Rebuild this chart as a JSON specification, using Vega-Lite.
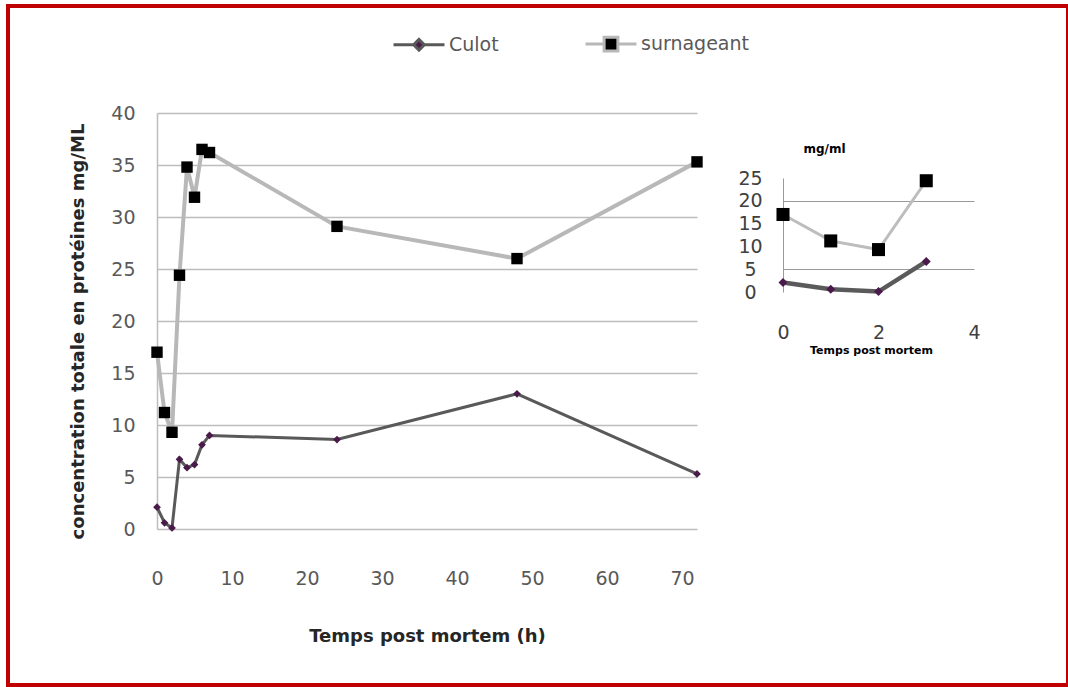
{
  "$schema": "https://vega.github.io/schema/vega-lite/v6.json",
  "width": 1060,
  "height": 679,
  "autosize": "none",
  "padding": {"left": 8, "top": 6, "right": 0, "bottom": 2},
  "background": "white",
  "config": {
    "view": {"stroke": "#c00000", "strokeWidth": 4},
    "font": "DejaVu Sans",
    "axis": {"labelFont": "DejaVu Sans", "titleFont": "DejaVu Sans", "labelFlush": false}
  },
  "data": {
    "values": [
      {"t": 0, "serie": "Culot", "v": 2.1},
      {"t": 1, "serie": "Culot", "v": 0.6},
      {"t": 2, "serie": "Culot", "v": 0.1},
      {"t": 3, "serie": "Culot", "v": 6.7},
      {"t": 4, "serie": "Culot", "v": 5.9},
      {"t": 5, "serie": "Culot", "v": 6.2},
      {"t": 6, "serie": "Culot", "v": 8.1},
      {"t": 7, "serie": "Culot", "v": 9.0},
      {"t": 24, "serie": "Culot", "v": 8.6},
      {"t": 48, "serie": "Culot", "v": 13.0},
      {"t": 72, "serie": "Culot", "v": 5.3},
      {"t": 0, "serie": "surnageant", "v": 17.0},
      {"t": 1, "serie": "surnageant", "v": 11.2},
      {"t": 2, "serie": "surnageant", "v": 9.3},
      {"t": 3, "serie": "surnageant", "v": 24.4},
      {"t": 4, "serie": "surnageant", "v": 34.8},
      {"t": 5, "serie": "surnageant", "v": 31.9},
      {"t": 6, "serie": "surnageant", "v": 36.5},
      {"t": 7, "serie": "surnageant", "v": 36.2},
      {"t": 24, "serie": "surnageant", "v": 29.1},
      {"t": 48, "serie": "surnageant", "v": 26.0},
      {"t": 72, "serie": "surnageant", "v": 35.3}
    ]
  },
  "resolve": {"scale": {"x": "independent", "y": "independent"}},
  "layer": [
    {
      "encoding": {
        "x": {
          "field": "t", "type": "quantitative",
          "scale": {"domain": [0, 72], "range": [149, 689], "nice": false, "zero": false},
          "axis": {
            "orient": "bottom", "offset": -156,
            "values": [0, 10, 20, 30, 40, 50, 60, 70],
            "domain": false, "ticks": false, "grid": false, "labelFlush": false,
            "labelPadding": 40, "labelFontSize": 19, "labelColor": "#595959",
            "title": "Temps post mortem (h)", "titleFontSize": 18, "titleFontWeight": "bold",
            "titleColor": "#262626", "titleY": 107, "titleBaseline": "middle"
          }
        },
        "y": {
          "field": "v", "type": "quantitative",
          "scale": {"domain": [0, 40], "range": [523, 107], "nice": false, "zero": false},
          "axis": {
            "orient": "left", "offset": -149,
            "values": [0, 5, 10, 15, 20, 25, 30, 35, 40],
            "domain": true, "domainColor": "#bdbdbd", "domainWidth": 1.5,
            "ticks": false, "grid": true, "gridColor": "#bdbdbd", "gridWidth": 1.5, "labelFlush": false,
            "labelPadding": 22, "labelFontSize": 19, "labelColor": "#595959",
            "title": "concentration totale en protéines mg/ML", "titleFontSize": 18,
            "titleFontWeight": "bold", "titleColor": "#262626",
            "titleX": -79, "titleY": 325, "titleAngle": -90,
            "titleBaseline": "middle", "titleAlign": "center"
          }
        },
        "stroke": {
          "field": "serie", "type": "nominal",
          "scale": {"domain": ["Culot", "surnageant"], "range": ["#595959", "#b8b8b8"]},
          "legend": {
            "orient": "none", "legendX": 384, "legendY": 11,
            "direction": "horizontal", "title": null, "padding": 0,
            "symbolSize": 2600, "symbolStrokeWidth": 3,
            "labelOffset": 3, "columnPadding": 80,
            "labelFont": "DejaVu Sans", "labelFontSize": 19, "labelColor": "#595959",
            "encode": {
              "symbols": {
                "update": {
                  "shape": {"signal": "datum.value === 'Culot' ? 'M-1,0H-0.2M0.2,0H1M0,-0.21L0.21,0L0,0.21L-0.21,0Z' : 'M-1,0H-0.27M0.27,0H1M-0.27,-0.27H0.27V0.27H-0.27Z'"},
                  "fill": {"signal": "datum.value === 'Culot' ? '#4a1a4a' : '#000000'"},
                  "stroke": {"signal": "datum.value === 'Culot' ? '#595959' : '#b8b8b8'"},
                  "strokeWidth": {"value": 3}
                }
              }
            }
          }
        }
      },
      "layer": [
        {
          "transform": [{"filter": "datum.serie === 'surnageant'"}],
          "mark": {"type": "line", "strokeWidth": 4}
        },
        {
          "transform": [{"filter": "datum.serie === 'Culot'"}],
          "mark": {"type": "line", "strokeWidth": 3}
        },
        {
          "transform": [{"filter": "datum.serie === 'Culot'"}],
          "mark": {"type": "point", "shape": "diamond", "filled": true, "fill": "#4a1a4a", "stroke": null, "strokeWidth": 0, "opacity": 1, "size": 60}
        },
        {
          "transform": [{"filter": "datum.serie === 'surnageant'"}],
          "mark": {"type": "point", "shape": "square", "filled": true, "fill": "#000000", "stroke": null, "strokeWidth": 0, "opacity": 1, "size": 130}
        }
      ]
    },
    {
      "transform": [{"filter": "datum.t <= 3"}],
      "encoding": {
        "x": {
          "field": "t", "type": "quantitative",
          "scale": {"domain": [0, 4], "range": [775, 966], "nice": false, "zero": false},
          "axis": {
            "orient": "bottom", "offset": -393,
            "values": [0, 2, 4],
            "domain": false, "ticks": false, "grid": false, "labelFlush": false,
            "labelPadding": 31, "labelFontSize": 19, "labelColor": "#404040",
            "title": "Temps post mortem", "titleFontSize": 11, "titleFontWeight": "bold",
            "titleColor": "#000000", "titleX": 863, "titleY": 58, "titleBaseline": "middle"
          }
        },
        "y": {
          "field": "v", "type": "quantitative",
          "scale": {"domain": [0, 25], "range": [286, 172], "nice": false, "zero": false},
          "axis": {
            "orient": "left", "offset": -775,
            "values": [0, 5, 10, 15, 20, 25],
            "domain": true, "domainColor": "#999999", "domainWidth": 1,
            "ticks": false, "grid": true, "gridColor": "#999999", "gridWidth": 1, "labelFlush": false,
            "gridOpacity": {"condition": {"test": "datum.value === 5 || datum.value === 20", "value": 1}, "value": 0},
            "labelPadding": 33, "labelAlign": "center", "labelFontSize": 19, "labelColor": "#404040",
            "title": "mg/ml", "titleFontSize": 12, "titleFontWeight": "bold", "titleColor": "#000000",
            "titleAngle": 0, "titleX": 41, "titleY": 142, "titleAlign": "center", "titleBaseline": "middle"
          }
        }
      },
      "layer": [
        {
          "transform": [{"filter": "datum.serie === 'surnageant'"}],
          "mark": {"type": "line", "strokeWidth": 3, "color": "#bdbdbd"}
        },
        {
          "transform": [{"filter": "datum.serie === 'Culot'"}],
          "mark": {"type": "line", "strokeWidth": 4.5, "color": "#5a5a5a"}
        },
        {
          "transform": [{"filter": "datum.serie === 'Culot'"}],
          "mark": {"type": "point", "shape": "diamond", "filled": true, "fill": "#4a1a4a", "stroke": null, "strokeWidth": 0, "opacity": 1, "size": 80}
        },
        {
          "transform": [{"filter": "datum.serie === 'surnageant'"}],
          "mark": {"type": "point", "shape": "square", "filled": true, "fill": "#000000", "stroke": null, "strokeWidth": 0, "opacity": 1, "size": 170}
        }
      ]
    }
  ]
}
